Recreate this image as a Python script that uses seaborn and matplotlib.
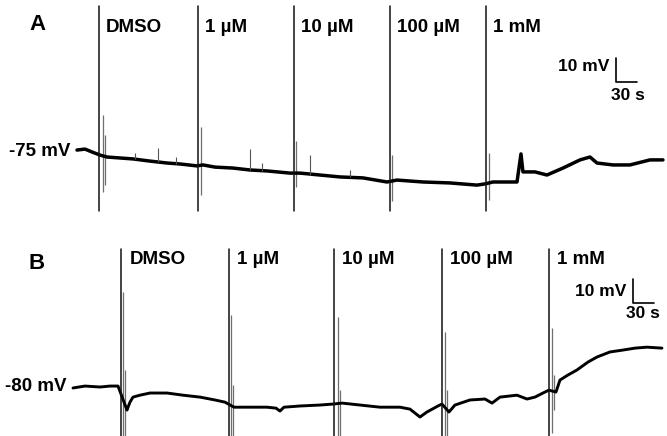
import numpy as np
import pandas as pd
import matplotlib
matplotlib.use("Agg")
import matplotlib.pyplot as plt
import seaborn as sns

# drug applications
drugs = ["DMSO", "1 µM", "10 µM", "100 µM", "1 mM"]

# panel A: membrane potential trace (time s, mV)
a_time = [0, 11.4, 21.4, 28.6, 32.9, 42.9, 61.4, 80.0, 104.3, 128.6, 147.1, 171.4,
          180.0, 197.1, 222.9, 247.1, 271.4, 304.3, 318.6, 347.1, 375.7, 408.6,
          442.9, 457.1, 494.3, 532.9, 571.4, 582.9, 594.3, 611.4, 628.6, 634.3,
          637.1, 654.3, 671.4, 694.3, 718.6, 732.9, 742.9, 765.7, 790.0, 818.6, 837.1]
a_mv = [-74.2, -73.8, -75.0, -75.8, -76.3, -77.1, -77.5, -77.9, -78.8, -79.6, -80.0, -80.8,
        -80.4, -81.3, -81.7, -82.5, -82.9, -83.8, -83.8, -84.6, -85.4, -85.8,
        -87.5, -86.7, -87.5, -87.9, -88.8, -88.3, -87.5, -87.5, -87.5, -75.8,
        -83.3, -83.3, -84.6, -81.7, -78.3, -77.1, -79.6, -80.4, -80.4, -78.3, -78.3]
a_drug_time = [31.4, 172.9, 310.0, 447.1, 584.3]
# perfusion artefacts
a_art_time = [37.1, 39.3, 177.1, 312.9, 450.0, 588.6]
a_art_top = [-59.6, -67.9, -64.6, -70.4, -76.3, -75.4]
a_art_bot = [-91.7, -88.8, -92.9, -89.6, -95.4, -95.0]
# small spontaneous events
a_ev_time = [82.9, 115.7, 141.4, 247.1, 264.3, 332.9, 390.0]
a_ev_base = [-77.9, -79.2, -80.0, -82.5, -82.9, -84.6, -85.4]
a_ev_top = [-75.4, -73.3, -77.1, -73.8, -79.6, -76.3, -82.5]

# panel B
b_time = [0, 17.1, 38.6, 52.9, 64.3, 77.1, 78.6, 81.4, 85.7, 95.7, 110.0, 134.3, 157.1,
          181.4, 202.9, 217.1, 230.0, 252.9, 277.1, 290.0, 295.7, 301.4, 324.3, 352.9,
          371.4, 384.3, 410.0, 438.6, 467.1, 481.4, 495.7, 505.7, 521.4, 527.1, 537.1,
          545.7, 567.1, 588.6, 598.6, 610.0, 634.3, 648.6, 660.0, 671.4, 680.0, 690.0,
          695.7, 707.1, 720.0, 735.7, 748.6, 767.1, 785.7, 802.9, 820.0, 841.4]
b_mv = [-80.8, -80.0, -80.4, -80.0, -80.0, -90.0, -88.8, -86.7, -84.6, -83.8, -82.9, -82.9, -83.8,
        -84.6, -85.8, -86.7, -88.8, -88.8, -88.8, -89.2, -90.4, -88.8, -88.3, -87.9,
        -87.5, -87.1, -87.9, -88.8, -88.8, -89.6, -92.9, -90.8, -88.3, -87.5, -90.8,
        -87.9, -85.8, -85.4, -87.1, -84.6, -83.8, -85.4, -84.6, -82.9, -81.7, -82.5,
        -77.5, -75.4, -73.3, -70.0, -67.9, -65.8, -65.0, -64.2, -63.8, -64.2]
b_drug_time = [68.6, 222.9, 372.9, 527.1, 680.0]
b_art_time = [71.4, 74.3, 225.7, 228.6, 378.6, 381.4, 531.4, 534.3, 684.3, 687.1]
b_art_top = [-40.8, -73.3, -50.4, -79.6, -51.3, -81.7, -57.5, -81.7, -55.8, -75.4]
b_art_bot = [-101, -101, -101, -101, -101, -101, -101, -101, -99.6, -90.0]

sns.set_style("white")
plt.rcParams['font.family'] = ['Liberation Sans', 'DejaVu Sans']
plt.rcParams['text.color'] = 'black'

fig = plt.figure(figsize=(6.67, 4.36), dpi=100)
axA = fig.add_axes([0, 0.5, 1, 0.5])
axB = fig.add_axes([0, 0, 1, 0.5])

FS = 13.5


def draw_panel(ax, t, mv, drug_t, art_t, art_top, art_bot, xlim, ylim, line_span, lw):
    ax.vlines(art_t, art_bot, art_top, color="#6e6e6e", lw=0.9)
    sns.lineplot(x=t, y=mv, ax=ax, color="black", lw=lw, sort=False, estimator=None)
    for x in drug_t:
        ax.axvline(x, ymin=line_span[0], ymax=line_span[1], color="#111111", lw=1.1)
    ax.set_xlim(*xlim)
    ax.set_ylim(*ylim)
    ax.axis("off")


draw_panel(axA, a_time, a_mv, a_drug_time, a_art_time, a_art_top, a_art_bot,
           (-110, 842.9), (-102.5, -11.7), (0.032, 0.972), 2.5)
axA.vlines(a_ev_time, a_ev_base, a_ev_top, color="#555555", lw=0.8)
draw_panel(axB, b_time, b_mv, b_drug_time, b_art_time, b_art_top, b_art_bot,
           (-104.3, 848.6), (-100.8, -10.0), (0.0, 0.858), 2.1)

for x, lab in zip(a_drug_time, drugs):
    axA.text(x + 10, -23.3, lab, fontsize=FS, fontweight="bold", va="center", ha="left")
for x, lab in zip(b_drug_time, drugs):
    axB.text(x + 12, -27.1, lab, fontsize=FS, fontweight="bold", va="center", ha="left")

axA.text(-57, -22.1, "A", fontsize=16, fontweight="bold", va="center", ha="center")
axB.text(-51.4, -28.75, "B", fontsize=16, fontweight="bold", va="center", ha="center")
axA.text(-10, -75, "-75 mV", fontsize=FS, fontweight="bold", va="center", ha="right")
axB.text(-8.6, -80, "-80 mV", fontsize=FS, fontweight="bold", va="center", ha="right")

# scale bars
SF = 12.5
axA.plot([770, 770, 800], [-35.8, -45.8, -45.8], color="black", lw=1.2)
axA.text(760, -39.6, "10 mV", fontsize=SF, fontweight="bold", va="center", ha="right")
axA.text(787, -51.3, "30 s", fontsize=SF, fontweight="bold", va="center", ha="center")
axB.plot([800, 800, 830], [-35.4, -45.4, -45.4], color="black", lw=1.2)
axB.text(791, -40.8, "10 mV", fontsize=SF, fontweight="bold", va="center", ha="right")
axB.text(814, -49.6, "30 s", fontsize=SF, fontweight="bold", va="center", ha="center")

fig.savefig("out.png", dpi=100)
